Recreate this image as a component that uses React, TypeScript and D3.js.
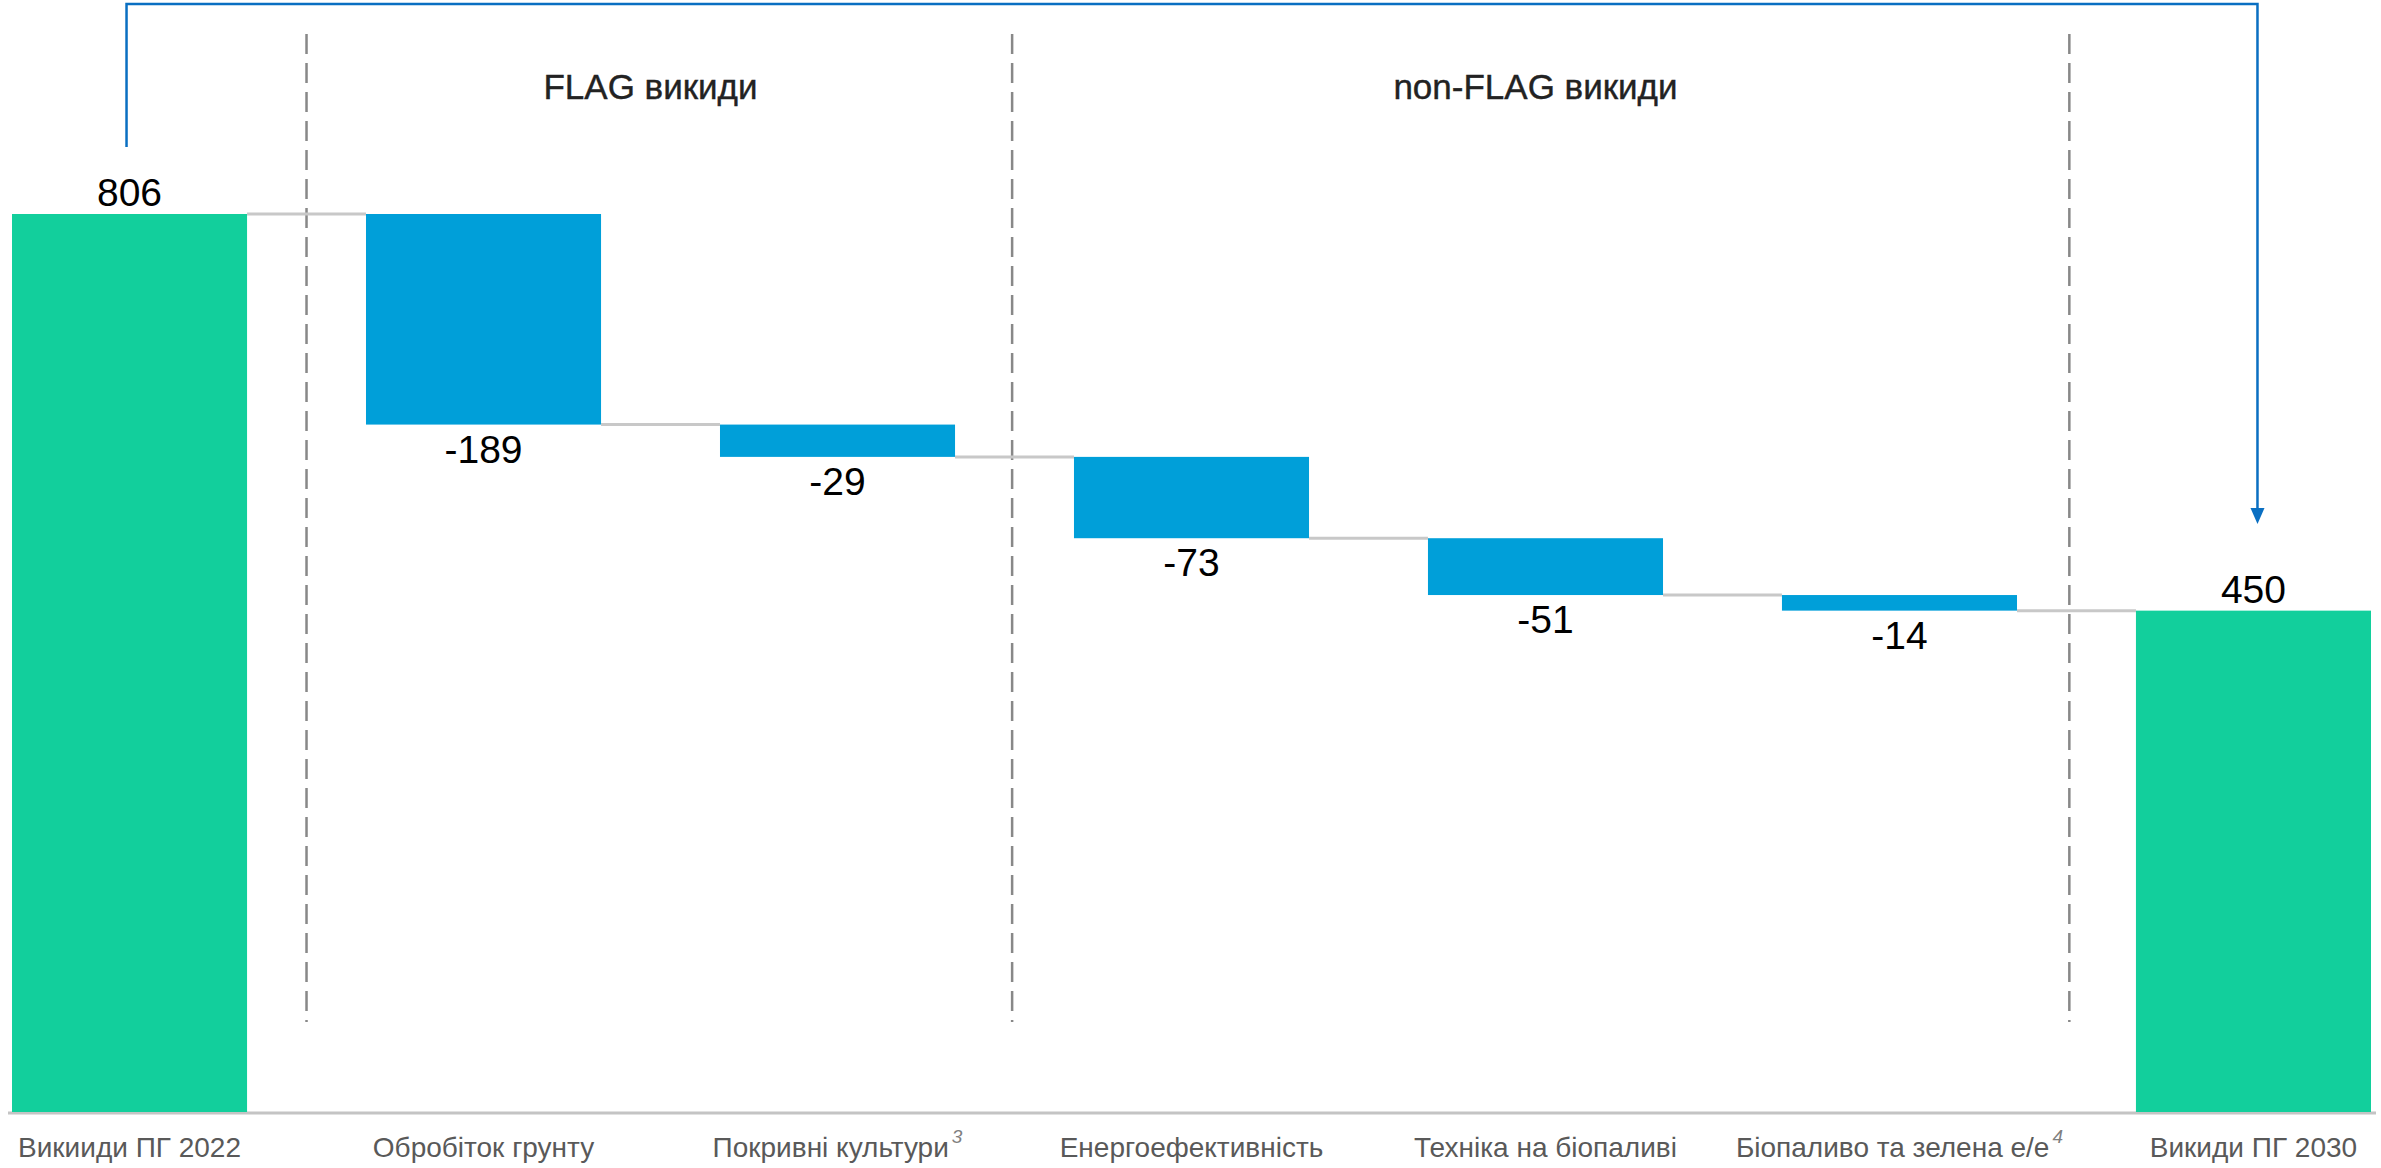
import React from "react";
import * as d3 from "d3";

const categories = [
  "Викииди ПГ 2022",
  "Обробіток грунту",
  "Покривні культури",
  "Енергоефективність",
  "Техніка на біопаливі",
  "Біопаливо та зелена е/е",
  "Викиди ПГ 2030",
];
const footnotes = ["", "", "3", "", "", "4", ""];
const values = [806, -189, -29, -73, -51, -14, 450];
const isTotal = [true, false, false, false, false, false, true];

// section headers: label + first/last category index
const sectionLabels = ["FLAG викиди", "non-FLAG викиди"];
const sectionFrom = [1, 3];
const sectionTo = [2, 5];
// dashed dividers sit after these categories (share of the gap)
const dividerAfter = [0, 2, 5];
const dividerShare = [0.5, 0.48, 0.44];

const W = 2381;
const H = 1168;
const GREEN = "#12cf9c";
const BLUE = "#009fd9";
const FONT = "'Liberation Sans', Arial, sans-serif";

export default function App() {
  const x = d3
    .scaleBand<string>()
    .domain(categories)
    .range([12, 2371])
    .paddingInner(0.336)
    .paddingOuter(0);
  const y = d3.scaleLinear().domain([0, 806]).range([1112, 214]);
  const bw = x.bandwidth();

  // running totals for the waterfall
  let run = 0;
  const bars = categories.map((c, i) => {
    let start, end;
    if (isTotal[i]) {
      start = 0;
      end = values[i];
      run = values[i];
    } else {
      start = run;
      end = run + values[i];
      run = end;
    }
    return { c, i, start, end, v: values[i] };
  });

  const cx = (i: number) => (x(categories[i]) as number) + bw / 2;
  const bracketL = cx(0) - 3;
  const bracketR = cx(6) + 4;
  const bracketTop = 4;

  return (
    <svg
      width={W}
      height={H}
      style={{ position: "absolute", left: 0, top: 0, background: "#fff" }}
    >
      {/* bracket arrow from first total to last */}
      <path
        d={`M${bracketL},147 V${bracketTop} H${bracketR} V510`}
        fill="none"
        stroke="#0a6fc2"
        strokeWidth={2.5}
      />
      <path
        d={`M${bracketR - 7},508 L${bracketR + 7},508 L${bracketR},524 Z`}
        fill="#0a6fc2"
      />

      {/* dashed dividers */}
      {dividerAfter.map((k, j) => {
        const xa = (x(categories[k]) as number) + bw;
        const xb = x(categories[k + 1]) as number;
        const xm = xa + (xb - xa) * dividerShare[j];
        return (
          <line
            key={k}
            x1={xm}
            x2={xm}
            y1={34}
            y2={1022}
            stroke="#888"
            strokeWidth={2.5}
            strokeDasharray="20 9"
          />
        );
      })}

      {/* section titles */}
      {sectionLabels.map((s, j) => (
        <text
          key={s}
          x={(cx(sectionFrom[j]) + cx(sectionTo[j])) / 2 - 10}
          y={99}
          textAnchor="middle"
          fontFamily={FONT}
          fontSize={35}
          fill="#222"
          stroke="#222"
          strokeWidth={0.4}
        >
          {s}
        </text>
      ))}

      {/* baseline */}
      <line x1={8} x2={2376} y1={y(0) + 1} y2={y(0) + 1} stroke="#c4c4c4" strokeWidth={3} />

      {/* connectors */}
      {bars.slice(0, -1).map((b, i) => (
        <line
          key={"c" + i}
          x1={(x(b.c) as number) + bw}
          x2={x(categories[i + 1]) as number}
          y1={y(b.end)}
          y2={y(b.end)}
          stroke="#c8c8c8"
          strokeWidth={3}
        />
      ))}

      {/* bars */}
      {bars.map((b) => (
        <rect
          key={b.c}
          x={x(b.c)}
          y={y(Math.max(b.start, b.end))}
          width={bw}
          height={Math.abs(y(b.start) - y(b.end))}
          fill={isTotal[b.i] ? GREEN : BLUE}
        />
      ))}

      {/* value labels */}
      {bars.map((b) => (
        <text
          key={"v" + b.c}
          x={cx(b.i)}
          y={b.v >= 0 ? y(b.end) - 8 : y(b.end) + 38}
          textAnchor="middle"
          fontFamily={FONT}
          fontSize={39}
          fill="#000"
        >
          {b.v}
        </text>
      ))}

      {/* category labels */}
      {categories.map((c, i) => (
        <text
          key={"t" + c}
          x={cx(i)}
          y={1157}
          textAnchor="middle"
          fontFamily={FONT}
          fontSize={28}
          fill="#595959"
        >
          {c}
          {footnotes[i] && (
            <tspan fontSize={19} fontStyle="italic" fill="#7f7f7f" dy={-14} dx={3}>
              {footnotes[i]}
            </tspan>
          )}
        </text>
      ))}
    </svg>
  );
}
